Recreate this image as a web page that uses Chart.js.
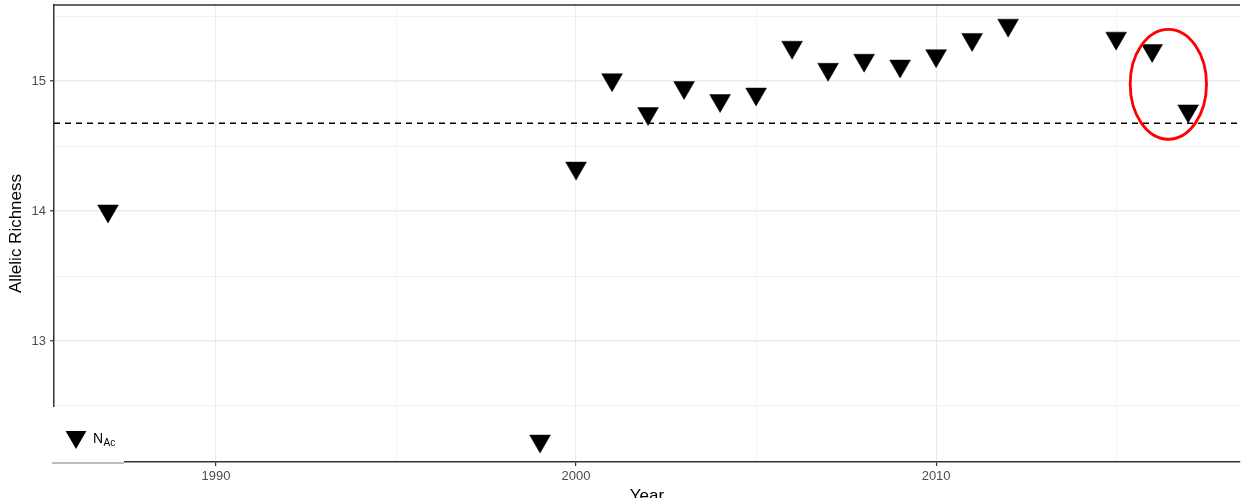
<!DOCTYPE html>
<html lang="en">
<head>
  <meta charset="UTF-8">
  <title>Allelic Richness by Year</title>
  <style>
    html, body { margin: 0; padding: 0; background: #fff; }
    #wrap { width: 1242px; height: 498px; }
  </style>
  <script src="https://cdn.jsdelivr.net/npm/chart.js"></script>
</head>
<body>
  <div id="wrap"><canvas id="chart" width="1242" height="498"></canvas></div>
  <script>
    // values
    const years    = [1987, 1999, 2000, 2001, 2002, 2003, 2004, 2005, 2006, 2007, 2008, 2009, 2010, 2011, 2012, 2015, 2016, 2017];
    const richness = [14.00, 12.23, 14.33, 15.01, 14.75, 14.95, 14.85, 14.90, 15.26, 15.09, 15.16, 15.115, 15.195, 15.32, 15.43, 15.33, 15.235, 14.77];
    const meanRichness = 14.675;

    const xRange = [1985.5, 2018.44];
    const yRange = [12.069, 15.585];
    const xTicks = [1990, 1995, 2000, 2005, 2010, 2015];
    const xLabels = [1990, 2000, 2010];
    const yTicks = [12.5, 13, 13.5, 14, 14.5, 15, 15.5];
    const yLabels = [13, 14, 15];

    // red ring around the last two years (data units)
    const ring = { x: 2016.45, y: 14.975, rx: 1.06, ry: 0.423 };

    const font = "'Liberation Sans', Arial, sans-serif";
    const tickGrey = '#4d4d4d';
    const axisDark = '#333333';

    const points = years.map((y, i) => ({ x: y, y: richness[i] }));
    const meanLine = xRange.map(x => ({ x: x, y: meanRichness }));

    const extras = {
      id: 'extras',
      afterDatasetsDraw(chart) {
        const { ctx, chartArea: a, scales: { x, y } } = chart;
        // top border
        ctx.save();
        ctx.strokeStyle = axisDark;
        ctx.lineWidth = 1.5;
        ctx.beginPath();
        ctx.moveTo(a.left - 0.75, a.top);
        ctx.lineTo(a.right, a.top);
        ctx.stroke();

        // red ring
        const cx = x.getPixelForValue(ring.x);
        const cy = y.getPixelForValue(ring.y);
        const rx = Math.abs(x.getPixelForValue(ring.x + ring.rx) - cx);
        const ry = Math.abs(y.getPixelForValue(ring.y + ring.ry) - cy);
        ctx.strokeStyle = '#ff0000';
        ctx.lineWidth = 2.8;
        ctx.beginPath();
        ctx.ellipse(cx, cy, rx, ry, 0, 0, Math.PI * 2);
        ctx.stroke();
        ctx.restore();
      },
      afterDraw(chart) {
        const { ctx, chartArea: a } = chart;
        ctx.save();
        // legend box inside the lower-left corner
        ctx.fillStyle = '#ffffff';
        ctx.fillRect(a.left - 2, a.bottom - 55, 72, 57);
        ctx.strokeStyle = '#555';
        ctx.lineWidth = 0.8;
        ctx.beginPath();
        ctx.moveTo(a.left - 2, a.bottom + 1);
        ctx.lineTo(a.left + 70, a.bottom + 1);
        ctx.stroke();

        const tx = a.left + 22, ty = a.bottom - 25, r = 12;
        ctx.fillStyle = '#000';
        ctx.beginPath();
        ctx.moveTo(tx, ty + r);
        ctx.lineTo(tx - r * Math.sqrt(3) / 2, ty - r / 2);
        ctx.lineTo(tx + r * Math.sqrt(3) / 2, ty - r / 2);
        ctx.closePath();
        ctx.fill();

        ctx.fillStyle = '#000';
        ctx.textBaseline = 'alphabetic';
        ctx.textAlign = 'left';
        ctx.font = '14px ' + font;
        ctx.fillText('N', a.left + 39, a.bottom - 19);
        ctx.font = '10px ' + font;
        ctx.fillText('Ac', a.left + 49.5, a.bottom - 16);

        // axis titles
        ctx.font = '17px ' + font;
        ctx.textAlign = 'center';
        ctx.textBaseline = 'top';
        ctx.fillText('Year', (a.left + a.right) / 2, 488);
        ctx.translate(16, (a.top + a.bottom) / 2);
        ctx.rotate(-Math.PI / 2);
        ctx.textBaseline = 'middle';
        ctx.fillText('Allelic Richness', 0, 0);
        ctx.restore();
      }
    };

    new Chart(document.getElementById('chart'), {
      type: 'scatter',
      data: {
        datasets: [
          {
            label: 'N_Ac',
            data: points,
            pointStyle: 'triangle',
            rotation: 180,
            pointRadius: 12,
            pointHoverRadius: 12,
            pointBackgroundColor: '#000',
            pointBorderColor: '#000',
            pointBorderWidth: 0.5,
            showLine: false,
            clip: false
          },
          {
            type: 'line',
            label: 'mean',
            data: meanLine,
            borderColor: '#000',
            borderWidth: 1.4,
            borderDash: [6, 5],
            pointRadius: 0,
            fill: false
          }
        ]
      },
      plugins: [extras],
      options: {
        responsive: false,
        animation: false,
        layout: { autoPadding: false, padding: { top: 5, right: 2, left: 0, bottom: 0 } },
        plugins: { legend: { display: false }, tooltip: { enabled: false } },
        scales: {
          x: {
            type: 'linear',
            min: xRange[0],
            max: xRange[1],
            afterBuildTicks: s => { s.ticks = xTicks.map(v => ({ value: v })); },
            afterFit: s => { s.height = 36; s.paddingLeft = 0; s.paddingRight = 0; },
            ticks: {
              autoSkip: false,
              maxRotation: 0,
              padding: 3,
              color: tickGrey,
              font: { family: font, size: 13 },
              callback: v => xLabels.includes(v) ? String(v) : ''
            },
            grid: {
              color: c => xLabels.includes(c.tick && c.tick.value) ? '#ebebeb' : '#f0f0f0',
              lineWidth: c => xLabels.includes(c.tick && c.tick.value) ? 1.2 : 0.8,
              tickLength: 4,
              tickColor: c => xLabels.includes(c.tick && c.tick.value) ? axisDark : 'rgba(0,0,0,0)',
              tickWidth: 1.2
            },
            border: { display: true, color: axisDark, width: 1.5 }
          },
          y: {
            type: 'linear',
            min: yRange[0],
            max: yRange[1],
            afterBuildTicks: s => { s.ticks = yTicks.map(v => ({ value: v })); },
            afterFit: s => { s.width = 54; s.paddingTop = 0; s.paddingBottom = 0; },
            ticks: {
              autoSkip: false,
              padding: 4,
              color: tickGrey,
              font: { family: font, size: 13 },
              callback: v => yLabels.includes(v) ? String(v) : ''
            },
            grid: {
              color: c => yLabels.includes(c.tick && c.tick.value) ? '#ebebeb' : '#f0f0f0',
              lineWidth: c => yLabels.includes(c.tick && c.tick.value) ? 1.6 : 1,
              tickLength: 4,
              tickColor: c => yLabels.includes(c.tick && c.tick.value) ? axisDark : 'rgba(0,0,0,0)',
              tickWidth: 1.2
            },
            border: { display: true, color: axisDark, width: 1.5 }
          }
        }
      }
    });
  </script>
</body>
</html>
